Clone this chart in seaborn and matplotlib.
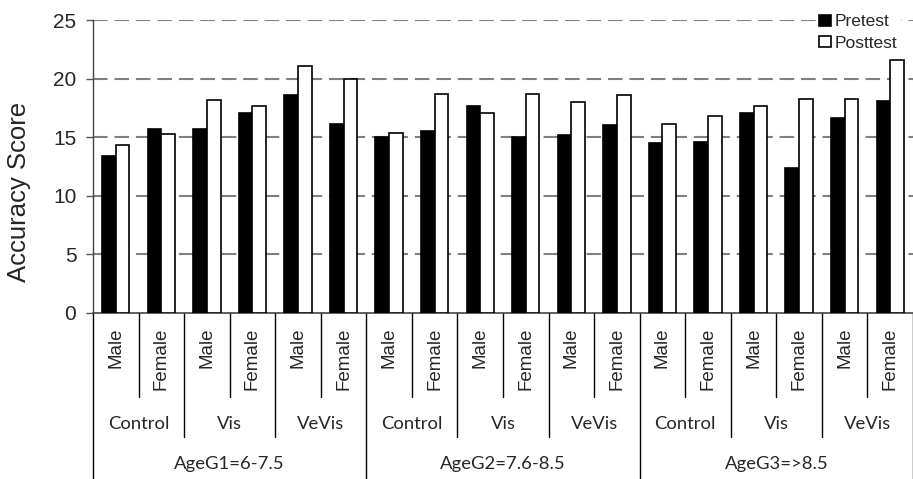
import pandas as pd
import seaborn as sns
import matplotlib.pyplot as plt
from matplotlib.transforms import blended_transform_factory

# values
age_groups = ['AgeG1=6-7.5', 'AgeG2=7.6-8.5', 'AgeG3=>8.5']
conditions = ['Control', 'Vis', 'VeVis']
sexes = ['Male', 'Female']
pretest = [13.4, 15.7, 15.7, 17.1, 18.6, 16.1,
           15.0, 15.5, 17.7, 15.0, 15.2, 16.0,
           14.5, 14.6, 17.1, 12.4, 16.6, 18.1]
posttest = [14.3, 15.3, 18.2, 17.7, 21.1, 20.0,
            15.4, 18.7, 17.1, 18.7, 18.0, 18.6,
            16.1, 16.8, 17.7, 18.3, 18.3, 21.6]

rows = []
keys = []
i = 0
for age in age_groups:
    for cond in conditions:
        for sex in sexes:
            key = f'{age}|{cond}|{sex}'
            keys.append(key)
            rows.append((key, 'Pretest', pretest[i]))
            rows.append((key, 'Posttest', posttest[i]))
            i += 1
df = pd.DataFrame(rows, columns=['group', 'test', 'score'])

sns.set_style('white')
plt.rcParams['font.family'] = ['Liberation Sans', 'DejaVu Sans']

fig = plt.figure(figsize=(9.13, 4.79), dpi=100)
ax = fig.add_axes([93 / 913, 1 - 313 / 479, 820 / 913, 293 / 479])

sns.barplot(data=df, x='group', y='score', hue='test', order=keys,
            hue_order=['Pretest', 'Posttest'],
            palette={'Pretest': 'black', 'Posttest': 'white'},
            edgecolor='black', linewidth=1.2, width=0.6, ax=ax, zorder=3)

ax.set_ylim(0, 25)
ax.set_xlim(-0.5, len(keys) - 0.5)
ax.set_yticks(range(0, 26, 5))
ax.tick_params(axis='y', labelsize=15, length=5, width=1, color='#555555',
               direction='out', pad=7, left=True)
ax.tick_params(axis='x', bottom=False, labelbottom=False)
ax.set_xlabel('')
ax.set_ylabel('')
for y in range(5, 26, 5):
    ax.axhline(y, color='#808080', lw=1.5, ls=(0, (7, 3.3)), zorder=1)
for s in ['top', 'right']:
    ax.spines[s].set_visible(False)
ax.spines['left'].set_color('#444444')
ax.spines['bottom'].set_color('#444444')
ax.spines['left'].set_linewidth(1)
ax.spines['bottom'].set_linewidth(1.2)

fig.text(19 / 913, 1 - 192 / 479, 'Accuracy Score', rotation=90,
         ha='center', va='center', fontsize=18.5)

# hierarchical category axis below the plot
tr = blended_transform_factory(ax.transData, ax.transAxes)
h = 293.0
for j, key in enumerate(keys):
    sex = key.split('|')[2]
    ax.text(j, -15 / h, sex, rotation=90, ha='center', va='top',
            fontsize=13.5, transform=tr)
for j in range(len(keys) + 1):
    x = j - 0.5
    if j % 6 == 0:
        y1 = -166 / h
    elif j % 2 == 0:
        y1 = -124 / h
    else:
        y1 = -84 / h
    ax.plot([x, x], [0, y1], color='black', lw=1, transform=tr, clip_on=False)
for k, cond in enumerate(conditions * 3):
    ax.text(2 * k + 0.5, -111 / h, cond, ha='center', va='center',
            fontsize=13.3, family=['Lato', 'DejaVu Sans'], transform=tr)
for k, age in enumerate(age_groups):
    ax.text(6 * k + 2.5, -151 / h, age, ha='center', va='center',
            fontsize=13.3, family=['Lato', 'DejaVu Sans'], transform=tr)

leg = ax.legend(loc='upper left', bbox_to_anchor=(816 / 913, 1 - 11 / 479),
                bbox_transform=fig.transFigure, fontsize=12.5, frameon=True,
                facecolor='white', edgecolor='none', framealpha=1,
                handlelength=0.66, handleheight=0.66, handletextpad=0.2,
                labelspacing=0.35, borderpad=0.2, borderaxespad=0)
leg.set_zorder(5)

fig.savefig('out.png', dpi=100)
